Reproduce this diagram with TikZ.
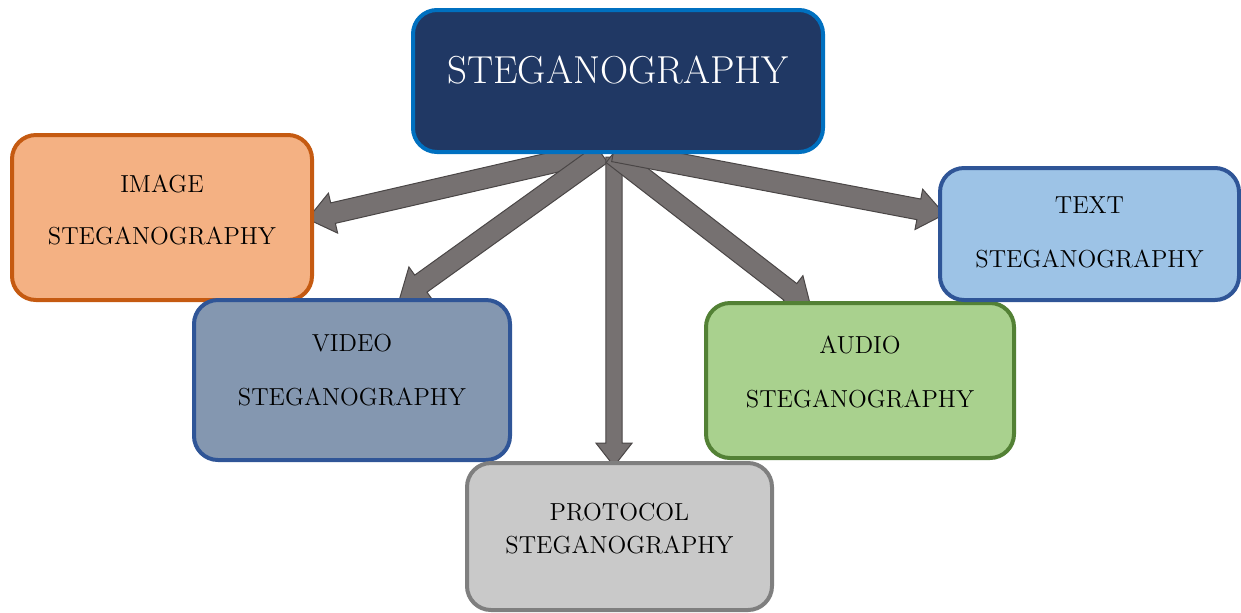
\documentclass[tikz,border=0pt]{standalone}
\usetikzlibrary{shapes.arrows,calc}
\definecolor{navy}{HTML}{203864}
\definecolor{navyline}{HTML}{0070C0}
\definecolor{orfill}{HTML}{F4B183}
\definecolor{orline}{HTML}{C55A11}
\definecolor{vidfill}{HTML}{8497B0}
\definecolor{blueline}{HTML}{2F5597}
\definecolor{grfill}{HTML}{C9C9C9}
\definecolor{grline}{HTML}{7F7F7F}
\definecolor{audfill}{HTML}{A9D18E}
\definecolor{audline}{HTML}{538135}
\definecolor{txtfill}{HTML}{9DC3E6}
\definecolor{arrowgray}{HTML}{767171}
\definecolor{arrowline}{HTML}{4A4646}
\pgfdeclarelayer{bg}
\pgfsetlayers{bg,main}
\tikzset{
  box/.style={draw, line width=2pt, rounded corners=12pt, align=center,
    font=\fontsize{12.3}{14.8}\selectfont, inner sep=0pt},
  blockarrow/.style={single arrow, draw=arrowline, fill=arrowgray, line width=0.5pt,
    minimum width=0pt, inner xsep=0pt, inner ysep=5pt, text height=0pt, text depth=0pt,
    single arrow head extend=5pt, single arrow tip angle=76, anchor=center},
}
\newcommand\blockarr[4][]{%
  \path let \p1=($(#4)-(#3)$), \n1={veclen(\x1,\y1)}, \n2={atan2(\y1,\x1)} in
    node[blockarrow, #1, minimum height=\n1, rotate=\n2] (#2) at ($(#3)!0.5!(#4)$) {};}
\begin{document}
\begin{tikzpicture}[x=0.5pt,y=-0.5pt]
\useasboundingbox (0,0) rectangle (1241,612);
\node[box, draw=navyline, fill=navy, text=white, font=\fontsize{19.5}{23}\selectfont,
  minimum width=205pt, minimum height=71pt, text depth=11pt] (top) at (618,81) {STEGANOGRAPHY};
\node[box, draw=orline, fill=orfill, minimum width=150pt, minimum height=82.5pt, text depth=8pt] (img) at (162,217.5)
  {IMAGE\\[11pt]STEGANOGRAPHY};
\node[box, draw=blueline, fill=vidfill, minimum width=158pt, minimum height=80pt, text depth=10pt] (vid) at (352,380)
  {VIDEO\\[12pt]STEGANOGRAPHY};
\node[box, draw=grline, fill=grfill, minimum width=152.5pt, minimum height=73.5pt, text depth=8pt] (prot) at (619.5,536.5)
  {PROTOCOL\\[2pt]STEGANOGRAPHY};
\node[box, draw=audline, fill=audfill, minimum width=154pt, minimum height=77.5pt, text depth=9pt] (aud) at (860,380.5)
  {AUDIO\\[12pt]STEGANOGRAPHY};
\node[box, draw=blueline, fill=txtfill, minimum width=149.5pt, minimum height=66pt, text depth=2pt] (txt) at (1089.5,234)
  {TEXT\\[12pt]STEGANOGRAPHY};
\coordinate (o) at (607,150);
\coordinate (ov) at (614,152);
\coordinate (tv) at ($(vid.north)+(53,-3)$);
\coordinate (tp) at ($(prot.north)+(-5.5,0)$);
\coordinate (ta) at ($(aud.north)+(-54,3)$);
\coordinate (tt) at ($(txt.west)+(0,-21)$);
\begin{pgfonlayer}{bg}
\blockarr{aimg}{o}{img.east}
\blockarr{avid}{o}{tv}
\blockarr[inner ysep=3.8pt, single arrow head extend=5pt]{aprot}{ov}{tp}
\blockarr{aaud}{o}{ta}
\blockarr{atxt}{o}{tt}
\end{pgfonlayer}
\end{tikzpicture}
\end{document}
